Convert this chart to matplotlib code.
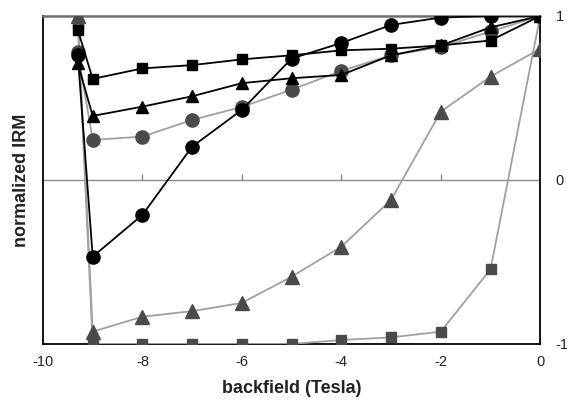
import matplotlib.pyplot as plt

plt.rcParams["font.family"] = ["Liberation Sans", "DejaVu Sans"]

# backfield steps (Tesla)
field = [-9.3, -9, -8, -7, -6, -5, -4, -3, -2, -1, 0]

# normalized IRM per sample
black_squares = [0.915, 0.616, 0.68, 0.70, 0.735, 0.76, 0.79, 0.80, 0.82, 0.85, 1.0]
black_triangles = [0.71, 0.39, 0.447, 0.51, 0.59, 0.62, 0.64, 0.76, 0.82, 0.93, 1.0]
black_circles = [0.76, -0.468, -0.213, 0.203, 0.427, 0.74, 0.835, 0.945, 0.99, 1.0, 1.0]
gray_circles = [0.78, 0.244, 0.264, 0.366, 0.445, 0.55, 0.665, 0.76, 0.81, 0.905, 1.0]
gray_triangles = [1.0, -0.925, -0.834, -0.80, -0.75, -0.59, -0.407, -0.122, 0.416, 0.63, 0.80]
gray_squares = [0.95, -1.0, -1.0, -1.0, -1.0, -1.0, -0.976, -0.96, -0.925, -0.545, 1.0]

fig = plt.figure(figsize=(5.67, 4.08), dpi=100)
ax = fig.add_axes([0.0758, 0.157, 0.877, 0.804])

mark_gray = "#4a4a4a"
line_gray = "#a0a0a0"

# gray series first, black ones on top
ax.plot(field, gray_squares, color=line_gray, lw=1.3, marker="s", ms=7,
        mfc=mark_gray, mec=mark_gray, zorder=3)
ax.plot(field, gray_triangles, color=line_gray, lw=1.3, marker="^", ms=9.5,
        mfc=mark_gray, mec=mark_gray, zorder=3)
ax.plot(field, gray_circles, color=line_gray, lw=1.3, marker="o", ms=9.5,
        mfc=mark_gray, mec=mark_gray, zorder=3)
ax.plot(field, black_circles, color="black", lw=1.3, marker="o", ms=9.5, zorder=4)
ax.plot(field, black_triangles, color="black", lw=1.3, marker="^", ms=9, zorder=4)
ax.plot(field, black_squares, color="black", lw=1.3, marker="s", ms=7, zorder=4)

ax.set_xlim(-10, 0)
ax.set_ylim(-1, 1)

# zero line with small ticks
ax.axhline(0, color="#8c8c8c", lw=1, zorder=1)
mid = ax.secondary_xaxis(0.5)
mid.set_xticks([-8, -6, -4, -2])
mid.set_xticklabels([])
mid.tick_params(axis="x", direction="out", length=4, color="#8c8c8c", width=1)
mid.spines["bottom"].set_visible(False)
mid.spines["top"].set_visible(False)

ax.set_xticks([-10, -8, -6, -4, -2, 0])
ax.set_xticklabels(["-10", "-8", "-6", "-4", "-2", "0"])
ax.tick_params(axis="x", length=0, labelsize=10.5, pad=8, colors="#222222")

ax.yaxis.tick_right()
ax.set_yticks([-1, 0, 1])
ax.set_yticklabels(["-1", "0", "1"])
ax.tick_params(axis="y", length=0, labelsize=10.5, pad=11, colors="#222222")

for side in ["left", "bottom", "right"]:
    ax.spines[side].set_color("black")
    ax.spines[side].set_linewidth(1.3)
ax.spines["top"].set_color("#707070")
ax.spines["top"].set_linewidth(1.8)

ax.set_xlabel("backfield (Tesla)", fontsize=13, fontweight="bold", labelpad=8,
              color="#222222")
ax.set_ylabel("normalized IRM", fontsize=13, fontweight="bold", labelpad=9,
              color="#222222")
ax.yaxis.set_label_position("left")

fig.savefig("out.png", dpi=100)
